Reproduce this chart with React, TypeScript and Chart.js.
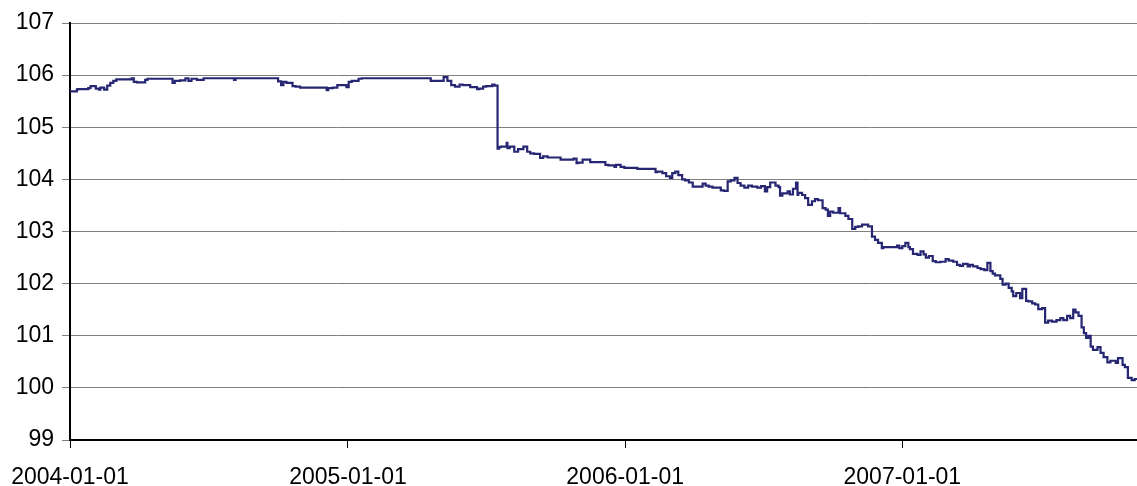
import React, { useEffect, useRef } from "react";
import { Chart, registerables } from "chart.js";

Chart.register(...registerables);

// Days since 2004-01-01
const dayOffsets: number[] = [
  0, 9, 10, 24, 27, 34, 38, 40, 45, 49, 53, 57, 61, 81, 84, 88, 99, 102, 106, 135,
  138, 145, 152, 156, 160, 167, 176, 178, 216, 218, 220, 274, 278, 281, 285, 293, 297, 303, 313, 338,
  340, 346, 352, 354, 364, 367, 371, 380, 384, 475, 479, 492, 497, 502, 507, 513, 517, 527, 530, 536,
  539, 544, 548, 556, 559, 563, 565,
  567, 575, 576, 579, 585, 590, 597, 602, 606, 611, 619, 623, 629, 634, 646, 650, 663, 667, 669, 675,
  679, 685, 689, 705, 709, 717, 719, 725, 730, 747, 751, 771, 773, 780, 785, 790, 793, 797, 801, 806,
  810, 815, 820, 825, 833, 837, 841, 846, 857, 861, 866, 870, 875, 879, 883, 888, 893, 898,
  905, 910, 915, 918, 922, 929, 933, 935, 938, 945, 948, 952, 956, 958, 959, 964, 968, 972, 977, 981,
  985, 991, 995, 998, 1001, 1005, 1012, 1014, 1021, 1025, 1030, 1034, 1038, 1043, 1051, 1056, 1060, 1064, 1069, 1071,
  1080, 1089, 1092, 1096, 1100, 1104, 1106, 1110, 1116, 1120, 1124,
  1127, 1131, 1136, 1140, 1146, 1153, 1157, 1163, 1168, 1172, 1176, 1182, 1185, 1189, 1195, 1199, 1204, 1208, 1212, 1215,
  1218, 1225, 1228, 1232, 1236, 1240, 1242, 1246, 1251, 1254, 1259, 1262, 1267, 1271, 1275, 1280, 1284, 1288, 1293, 1299,
  1304, 1308, 1313, 1317, 1321, 1324, 1328, 1332, 1335, 1338, 1341, 1344, 1347, 1353, 1357, 1361, 1366, 1370, 1377, 1380,
  1386, 1389, 1393, 1398, 1402, 1405,
];

const priceValues: number[] = [
  105.69, 105.69, 105.72, 105.73, 105.75, 105.79, 105.74, 105.72, 105.76, 105.72, 105.8, 105.85, 105.89, 105.92, 105.94, 105.87, 105.86, 105.91, 105.93, 105.93,
  105.85, 105.89, 105.9, 105.94, 105.89, 105.93, 105.91, 105.94, 105.94, 105.91, 105.94, 105.94, 105.88, 105.81, 105.87, 105.85, 105.79, 105.78, 105.76, 105.76,
  105.71, 105.75, 105.76, 105.81, 105.81, 105.77, 105.87, 105.89, 105.93, 105.94, 105.89, 105.89, 105.96, 105.89, 105.81, 105.78, 105.82, 105.81, 105.77, 105.77,
  105.73, 105.74, 105.78, 105.79, 105.82, 105.8, 104.59,
  104.62, 104.63, 104.7, 104.6, 104.63, 104.53, 104.58, 104.63, 104.53, 104.5, 104.49, 104.41, 104.44, 104.42, 104.42, 104.38, 104.38, 104.4, 104.31, 104.32,
  104.38, 104.38, 104.33, 104.33, 104.28, 104.27, 104.24, 104.28, 104.24, 104.22, 104.2, 104.2, 104.14, 104.15, 104.12, 104.06, 104.03, 104.12, 104.15, 104.08,
  104.0, 103.98, 103.94, 103.86, 103.86, 103.92, 103.88, 103.86, 103.84, 103.79, 103.78, 103.96, 103.98, 104.03, 103.93, 103.88, 103.84, 103.88,
  103.86, 103.84, 103.87, 103.77, 103.85, 103.94, 103.88, 103.85, 103.69, 103.73, 103.77, 103.71, 103.82, 103.94, 103.7, 103.74, 103.7, 103.64, 103.51, 103.58,
  103.62, 103.6, 103.45, 103.42, 103.3, 103.38, 103.36, 103.45, 103.35, 103.3, 103.24, 103.05, 103.09, 103.1, 103.13, 103.1, 102.9, 102.84, 102.78, 102.68,
  102.7, 102.7, 102.73, 102.68, 102.72, 102.78, 102.7, 102.66, 102.57, 102.55, 102.62,
  102.56, 102.5, 102.53, 102.43, 102.41, 102.42, 102.47, 102.44, 102.42, 102.36, 102.34, 102.38, 102.33, 102.36, 102.33, 102.3, 102.28, 102.26, 102.4, 102.24,
  102.19, 102.16, 102.09, 101.98, 102.0, 101.92, 101.85, 101.76, 101.82, 101.72, 101.9, 101.67, 101.66, 101.62, 101.6, 101.51, 101.53, 101.25, 101.29, 101.27,
  101.3, 101.34, 101.3, 101.38, 101.34, 101.5, 101.45, 101.38, 101.16, 101.05, 100.96, 101.0, 100.79, 100.73, 100.78, 100.67, 100.59, 100.49, 100.52, 100.48,
  100.57, 100.44, 100.4, 100.19, 100.15, 100.17,
];

const xTickDays: number[] = [0, 366, 731, 1096];
const xTickLabels: string[] = ["2004-01-01", "2005-01-01", "2006-01-01", "2007-01-01"];
const xMaxDay = 1405;
const yMin = 99;
const yMax = 107;

const FONT = "'Liberation Sans', Arial, sans-serif";

export default function App() {
  const canvasRef = useRef<HTMLCanvasElement | null>(null);

  useEffect(() => {
    const canvas = canvasRef.current;
    if (!canvas) return;
    const points = dayOffsets.map((d, i) => ({ x: d, y: priceValues[i] }));
    const chart = new Chart(canvas, {
      type: "line",
      data: {
        datasets: [
          {
            data: points,
            borderColor: "#262673",
            borderWidth: 2.2,
            pointRadius: 0,
            tension: 0,
            stepped: "after",
            fill: false,
          },
        ],
      },
      options: {
        responsive: false,
        animation: false,
        layout: { padding: { top: 23, right: 0, left: 0, bottom: 0 } },
        plugins: { legend: { display: false }, tooltip: { enabled: false } },
        scales: {
          x: {
            type: "linear",
            min: 0,
            max: xMaxDay,
            afterBuildTicks: (s: any) => {
              s.ticks = xTickDays.map((v) => ({ value: v }));
            },
            afterFit: (s: any) => {
              s.height = 46;
              s.paddingLeft = 0;
              s.paddingRight = 0;
            },
            ticks: {
              autoSkip: false,
              maxRotation: 0,
              minRotation: 0,
              color: "#000",
              padding: 16,
              font: { family: FONT, size: 23 },
              callback: (v: any) => {
                const i = xTickDays.indexOf(Number(v));
                return i >= 0 ? xTickLabels[i] : "";
              },
            },
            grid: {
              display: true,
              drawOnChartArea: false,
              drawTicks: true,
              tickLength: 8,
              color: "#000",
              lineWidth: 1,
            },
            border: { display: true, color: "#000", width: 2 },
          },
          y: {
            min: yMin,
            max: yMax,
            afterFit: (s: any) => {
              s.width = 70;
            },
            ticks: {
              stepSize: 1,
              color: "#000",
              padding: 8,
              font: { family: FONT, size: 23 },
            },
            grid: {
              color: "#808080",
              lineWidth: 1,
              drawTicks: true,
              tickLength: 8,
            },
            border: { display: true, color: "#000", width: 2 },
          },
        },
      },
    });
    return () => chart.destroy();
  }, []);

  return (
    <div style={{ position: "absolute", left: 0, top: 0, width: 1137, height: 486, background: "#fff" }}>
      <canvas ref={canvasRef} width={1137} height={486} style={{ display: "block" }} />
    </div>
  );
}
